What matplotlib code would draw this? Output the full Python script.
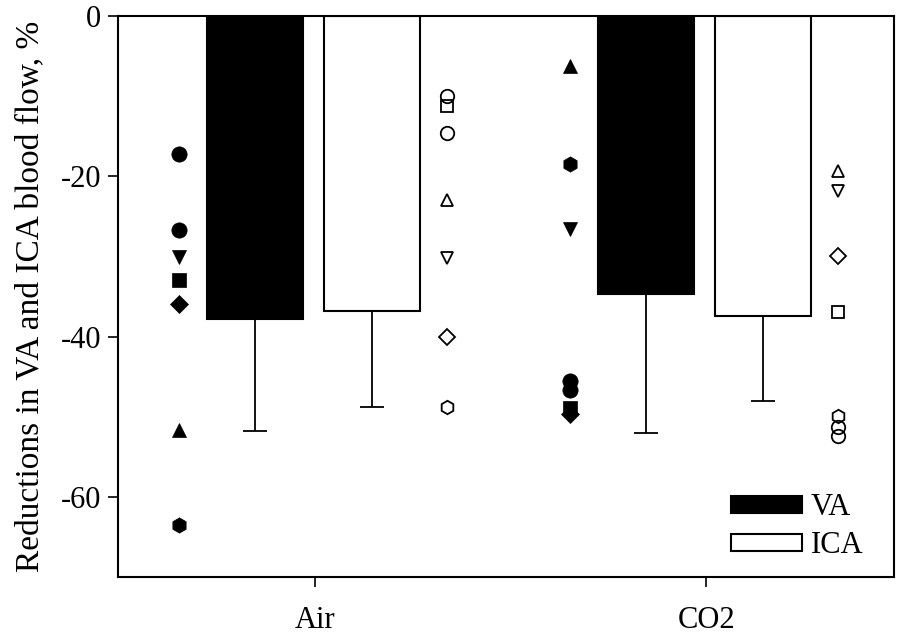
import matplotlib
matplotlib.use("Agg")
import matplotlib.pyplot as plt
import numpy as np

plt.rcParams['font.family'] = ['Liberation Serif', 'DejaVu Serif']
plt.rcParams['axes.unicode_minus'] = False

conditions = ["Air", "CO2"]
series = ["VA", "ICA"]

va_mean = [-37.75, -34.75]
va_sd = [14.0, 17.3]
ica_mean = [-36.75, -37.4]
ica_sd = [12.1, 10.6]

# individual subjects (same marker per subject)
va_air = [-17.25, -26.75, -30.1, -33.0, -35.9, -51.6, -63.5]
ica_air = [-10.0, -14.6, -30.2, -11.2, -40.0, -23.0, -48.8]
va_co2 = [-45.5, -46.7, -26.6, -48.9, -49.6, -6.3, -18.5]
ica_co2 = [-51.3, -52.4, -21.8, -36.9, -29.9, -19.4, -49.9]

subject_markers = ['o', 'o', 'v', 's', 'D', '^', 'h']
subject_sizes = [11, 11, 10.5, 10, 9.5, 10.5, 11]

fig = plt.figure(figsize=(8.98, 6.37), dpi=100)
ax = fig.add_axes([118/898, 1-577/637, (894-118)/898, (577-16)/637])

x = np.arange(1, len(conditions)+1)
bw = 0.245
off_va, off_ica = -0.155, 0.145
off_pts_va, off_pts_ica = -0.348, 0.336

ax.bar(x + off_va, va_mean, bw, color='black', edgecolor='black', linewidth=1.5,
       yerr=[va_sd, [0]*len(va_sd)], error_kw=dict(ecolor='black', elinewidth=1.3, capsize=8.5, capthick=1.3),
       label=series[0], zorder=2)
ax.bar(x + off_ica, ica_mean, bw, color='white', edgecolor='black', linewidth=1.5,
       yerr=[ica_sd, [0]*len(ica_sd)], error_kw=dict(ecolor='black', elinewidth=1.3, capsize=8.5, capthick=1.3),
       label=series[1], zorder=2)

groups = [(x[0] + off_pts_va, va_air, True), (x[0] + off_pts_ica, ica_air, False),
          (x[1] + off_pts_va, va_co2, True), (x[1] + off_pts_ica, ica_co2, False)]
for xp, vals, filled in groups:
    for v, m, s in zip(vals, subject_markers, subject_sizes):
        if filled:
            ax.plot([xp], [v], marker=m, markersize=s, color='black', markeredgecolor='black',
                    markeredgewidth=0.5, linestyle='none', zorder=3)
        else:
            ax.plot([xp], [v], marker=m, markersize=s*0.88, markerfacecolor='none', markeredgecolor='black',
                    markeredgewidth=1.3, linestyle='none', zorder=3)

ax.set_xlim(0.495, 2.48)
ax.set_ylim(-70, 0)
ax.set_yticks([0, -20, -40, -60])
ax.set_xticks(x)
ax.set_xticklabels(conditions)
ax.tick_params(axis='both', direction='out', length=7, width=1.2, labelsize=22)
ax.tick_params(axis='x', pad=14)
ax.tick_params(axis='y', pad=5)
for sp in ax.spines.values():
    sp.set_linewidth(1.5)
ax.set_ylabel("Reductions in VA and ICA blood flow, %", fontsize=24, labelpad=11)

ax.legend(loc='lower right', frameon=False, fontsize=22, handlelength=2.3, handleheight=0.5,
          handletextpad=0.3, labelspacing=0.3, borderaxespad=0.6, bbox_to_anchor=(1.0, -0.025))

fig.savefig("out.png", dpi=100)
